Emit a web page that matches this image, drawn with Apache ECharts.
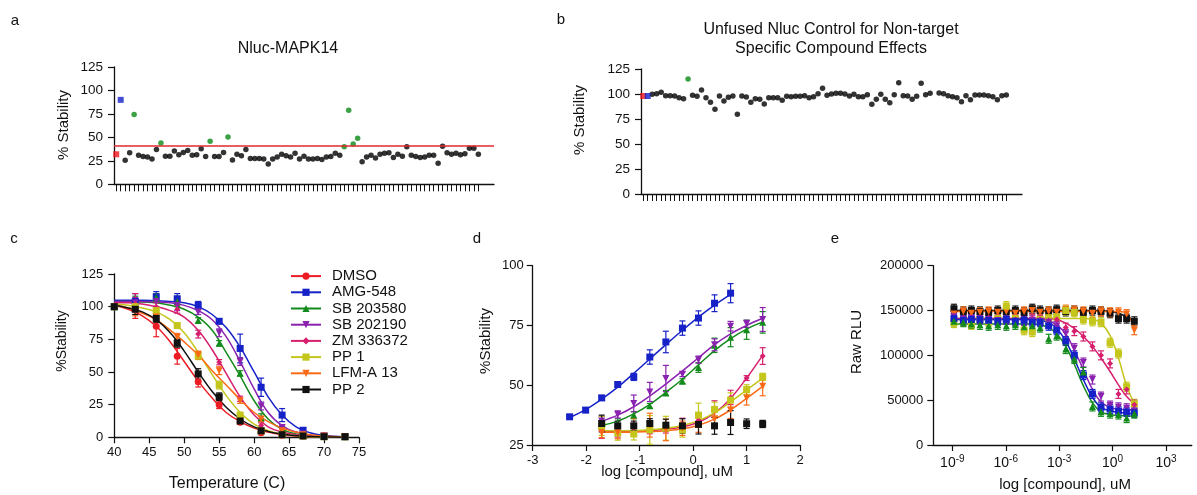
<!DOCTYPE html>
<html><head><meta charset="utf-8">
<script src="https://cdn.jsdelivr.net/npm/echarts@6/dist/echarts.min.js"></script>
<style>html,body{margin:0;padding:0;background:#fff}#c{width:1197px;height:495px}</style>
</head><body><div id="c"></div><script>
// ---------- DATA ----------
// Panel a: Nluc-MAPK14 screen (% stability), first = DMSO, second = AMG-548
const aValues = [32,90,25.5,33.5,74.5,31,29.5,29,27,37,44,30,30,35.5,31.5,34,36,31,31.5,38,29.5,46,29.5,29.5,34,50.5,26,32,30.5,37,27.5,27.5,27.5,27,21.5,27,29,32,30.5,29,33,27,30,27,27,27.5,26.5,29,29.5,33,31,40,79,43,49,24,29,31,28,32,33,33.5,28.5,32,30,40,31,29.5,28.5,29,31,31,22.5,40.5,33.5,32,33,31.5,32.5,38.5,38.5,32];
const aHits = [5,11,22,26,52,53,54,55];
const aCutoff = 41;
// Panel b: unfused Nluc control
const bValues = [98,98,99.7,100.3,101.7,98.3,98.3,98,96.3,95.3,115,98.7,97.7,104,96.3,91.7,84.7,98,93,96.7,98,79.7,98,97,91.7,95.3,94.7,90,96.3,96.3,96.3,93.7,97.7,97.3,97.7,97.7,98.3,96.3,97.3,100.3,105.7,98.7,100,100.7,100.7,100,98,99.7,97.3,97.3,99.3,89.7,94.7,99.7,94.7,91.3,99.3,111.3,98.3,98,94.7,97.7,110.7,99.3,100.7,null,101,100.3,98.3,97.3,96.3,92.3,98.3,94.3,99,99,99,98.3,97.3,94.3,98.3,99];
const bHits = [11];

// Panel c: thermal melt
const cNames = ['DMSO','AMG-548','SB 203580','SB 202190','ZM 336372','PP 1','LFM-A 13','PP 2'];
const cTemps = [40,43,46,49,52,55,58,61,64,67,70,73];
const cDMSO     = [100,98,85,62,42.5,25,11.5,3.5,1.5,1,1,0.5];
const cAMG548   = [100,104,107.5,106,101,88.8,68,38.3,17,5.4,1,0.5];
const cSB203580 = [100,103,107,104,89.5,72,49,15,6,2,1,0.5];
const cSB202190 = [100,103,104,101,96,80,58,24,7.5,2.5,1,0.5];
const cZM336372 = [100,102,100,98,79,57.5,29.5,9,3,1,0.5,0.5];
const cPP1      = [100,100,97,85.5,62.5,40,17,5,2,1,0.5,0.5];
const cLFMA13   = [100,97,92,76.5,63,51,28,14,5,2,1,0.5];
const cPP2      = [100,98,91,72,48.5,31,12.5,5,2,1,0.5,0.5];
const cDMSOErr     = [1,7,8,6,4,3,1.5,1,0.5,0.5,0.5,0.5];
const cAMG548Err   = [1,6,4,4,3,2,11,7,5,2,0.5,0.5];
const cSB203580Err = [1,5,3,4,2,2,2,3,2,1,0.5,0.5];
const cSB202190Err = [1,4,4,4,2,3,3,3,1,1,0.5,0.5];
const cZM336372Err = [1,8,3,3,3,2,2,2,1,1,0.5,0.5];
const cPP1Err      = [1,3,2,2,3,3,2,1,1,0.5,0.5,0.5];
const cLFMA13Err   = [1,4,3,3,3,3,2,2,1,0.5,0.5,0.5];
const cPP2Err      = [1,4,3,3,4,3,2,1,1,0.5,0.5,0.5];
const cFitTemps = [40,42,44,46,48,50,52,54,56,58,60,62,64,66,68,70,73];
const cDMSOFit     = [101,98,93,85,73,58,43,30,19,12,7,4,2,1,0.5,0.3,0.1];
const cAMG548Fit   = [105,105,105,104.5,104,103,100,94,84,69,50,31,17,8,3.5,1.5,0.3];
const cSB203580Fit = [104,104,103.5,103,101,98,92,82,65,47,28,14,6,2.5,1,0.4,0.1];
const cSB202190Fit = [104,104,104,103.5,103,101,97,90,77,58,37,19,9,4,1.5,0.6,0.1];
const cZM336372Fit = [103,103,102,100,97,92,82,67,49,31,17,8,4,2,1,0.4,0.1];
const cPP1Fit      = [102,101,99,96,90,80,65,48,32,19,10,5,2.5,1.2,0.5,0.2,0.1];
const cLFMA13Fit   = [101,99,95,90,82,73,63,51,40,29,19,12,7,4,2,1,0.4];
const cPP2Fit      = [101,99,96,90,80,66,50,35,23,14,8,4.5,2.5,1.2,0.6,0.3,0.1];

// Panel d: dose response (% stability)
const dLogAMG = [-2.31,-2.01,-1.71,-1.41,-1.11,-0.81,-0.51,-0.2,0.1,0.4,0.7];
const dLog    = [-1.71,-1.41,-1.11,-0.81,-0.51,-0.2,0.1,0.4,0.7,1.0,1.3];
const dAMG548   = [36.8,39.6,44.7,50.3,53.5,61.8,68.1,73.9,78.1,84.3,88.5];
const dSB203580 = [33.3,34,37.5,41.4,46.8,51.7,57.4,66.7,70.1,73.2,76.3];
const dSB202190 = [35,37.8,42.4,47.2,52.8,54.6,60.7,66.9,74.7,75.7,77.5];
const dZM336372 = [30.8,30.8,32,31.7,32,33.7,35.4,40,44.9,53,62.2];
const dPP1      = [33,30,29.6,31.3,32,31.3,37.5,39.9,43.8,48.2,53.5];
const dLFMA13   = [30.1,30.1,32.6,33.3,31.3,32,33.3,36,39.6,44.7,49.6];
const dPP2      = [34,33,33,34,33.3,33,33.6,33,34.4,33.9,33.8];
const dAMG548Err   = [0.5,1,1,1,1.5,3,4.5,3,3,3.5,4];
const dSB203580Err = [2,2,1.5,1,1,1,2,3,4,4,4.5];
const dSB202190Err = [2,1.5,3.5,4,5.5,1,1.5,2.5,2,1.5,5];
const dZM336372Err = [3,2.5,2,2,2,2.5,3,3.5,3,1,3.5];
const dPP1Err      = [4,3,2.5,6,5,3,5,3,3,2,1.5];
const dLFMA13Err   = [2,2.5,3.5,5,4.5,3,3,3,3.5,3,4];
const dPP2Err      = [3.5,2,2,2,2.5,3,4,3.5,5,2,1.5];
const dAMG548Fit   = [36.5,39.8,44.2,49.2,55,61,67,73,78.5,83.5,88];
const dSB203580Fit = [33.2,35,38,42,47,52.5,58.5,64.5,69.5,73.5,76.5];
const dSB202190Fit = [35,37.5,41,45.5,50.5,56,61.5,67,71.5,75,78];
const dZM336372Fit = [30.8,30.8,30.9,31.1,31.6,32.6,34.5,38.3,44.5,53,62.5];
const dPP1Fit      = [31,31,31.1,31.4,32,33.2,35.2,38.4,43,48,53];
const dLFMA13Fit   = [30.3,30.3,30.4,30.6,31,31.8,33.3,35.8,39.7,44.5,49.5];

// Panel e: raw RLU (x = log10 concentration, uM)
const eLog = [-8.91,-8.38,-7.93,-7.45,-6.96,-6.45,-5.97,-5.46,-4.97,-4.51,-4.07,-3.59,-3.14,-2.63,-2.15,-1.64,-1.13,-0.65,-0.14,0.33,0.79,1.22];
const eTickLogs = [-9,-6,-3,0,3];
const ePP2      = [152000,149000,150000,149000,148000,150000,149000,150000,148000,152000,150000,149000,151000,149000,150000,148000,150000,149000,147000,141000,141000,138000];
const eLFMA13   = [146000,149000,147000,148000,149000,148000,149000,147000,149000,150000,148000,149000,148000,151000,150000,149000,147000,149000,148000,148000,146000,128000];
const ePP1      = [136000,138000,134000,140000,137000,141000,155000,141000,128000,126000,140000,142000,143000,150000,148000,140000,138000,137000,114000,102000,65000,46000];
const eZM336372 = [140000,142000,140000,141000,142000,140000,141000,140000,139000,141000,140000,139000,140000,131000,127000,121000,110000,100000,91000,57000,62000,45000];
const eSB202190 = [143000,140000,141000,141000,140000,139000,140000,138000,139000,139000,138000,137000,133000,124000,108000,92000,73000,54000,44000,42000,41000,38000];
const eAMG548   = [141000,139000,140000,140000,139000,138000,140000,138000,139000,137000,137000,133000,128000,116000,100000,78000,57000,42000,40000,38000,37000,36000];
const eSB203580 = [138000,137000,135000,134000,133000,134000,133000,134000,132000,133000,131000,118500,122000,107000,96000,81500,43000,37000,35000,34000,30000,35000];
const ePP2Fit      = [150000,150000,150000,150000,150000,150000,150000,150000,150000,150000,150000,150000,150000,150000,150000,150000,150000,150000,149000,147000,143000,139000];
const eLFMA13Fit   = [149000,149000,149000,149000,149000,149000,149000,149000,149000,149000,149000,149000,149000,149000,149000,149000,149000,149000,149000,149000,147000,128000];
const ePP1Fit      = [141000,141000,141000,141000,141000,141000,141000,141000,141000,141000,141000,141000,141000,141000,141000,141000,140000,136000,122000,97000,66000,46000];
const eZM336372Fit = [141000,141000,141000,141000,141000,141000,141000,141000,141000,141000,141000,141000,140000,136000,130000,121000,110000,97000,82000,67000,54000,46000];
const eSB202190Fit = [140000,140000,140000,140000,140000,140000,140000,140000,140000,140000,140000,138500,134000,124000,106000,84000,62000,48000,42000,40000,39500,39000];
const eAMG548Fit   = [140000,140000,140000,140000,140000,140000,140000,140000,140000,140000,139000,136500,130000,116000,96000,73000,53000,42000,38000,36500,35500,35000];
const eSB203580Fit = [135000,135000,135000,135000,135000,135000,135000,135000,135000,135000,134000,131000,124000,110000,90000,66000,47000,37000,34000,33000,32500,32000];
const eErr = 5000;

// ---------- STYLES / LAYOUT ----------
const FONT = 'Liberation Sans, Arial, sans-serif';
const INV = 'path://M0,0L10,0L5,9Z';
const sty = {
  'DMSO':      {color:'#ec1c24', symbol:'circle', size:7},
  'AMG-548':   {color:'#1622c8', symbol:'rect', size:7},
  'SB 203580': {color:'#138a1c', symbol:'triangle', size:7},
  'SB 202190': {color:'#8a22b0', symbol:INV, size:7},
  'ZM 336372': {color:'#d6206e', symbol:'diamond', size:6},
  'PP 1':      {color:'#c4c61c', symbol:'rect', size:7},
  'LFM-A 13':  {color:'#fa6a16', symbol:INV, size:7},
  'PP 2':      {color:'#111111', symbol:'rect', size:7}
};
const AX = '#111';
const lab = (s)=>({color:'#111', fontFamily:FONT, fontSize:s});

const cSets = {
  'DMSO':[cDMSO,cDMSOErr,cDMSOFit], 'AMG-548':[cAMG548,cAMG548Err,cAMG548Fit],
  'SB 203580':[cSB203580,cSB203580Err,cSB203580Fit], 'SB 202190':[cSB202190,cSB202190Err,cSB202190Fit],
  'ZM 336372':[cZM336372,cZM336372Err,cZM336372Fit], 'PP 1':[cPP1,cPP1Err,cPP1Fit],
  'LFM-A 13':[cLFMA13,cLFMA13Err,cLFMA13Fit], 'PP 2':[cPP2,cPP2Err,cPP2Fit]
};
const dSets = {
  'AMG-548':[dLogAMG,dAMG548,dAMG548Err,dAMG548Fit],
  'SB 203580':[dLog,dSB203580,dSB203580Err,dSB203580Fit],
  'SB 202190':[dLog,dSB202190,dSB202190Err,dSB202190Fit],
  'ZM 336372':[dLog,dZM336372,dZM336372Err,dZM336372Fit],
  'PP 1':[dLog,dPP1,dPP1Err,dPP1Fit],
  'LFM-A 13':[dLog,dLFMA13,dLFMA13Err,dLFMA13Fit],
  'PP 2':[dLog,dPP2,dPP2Err,null]
};
const eSets = {
  'PP 2':[ePP2,ePP2Fit], 'LFM-A 13':[eLFMA13,eLFMA13Fit], 'PP 1':[ePP1,ePP1Fit],
  'ZM 336372':[eZM336372,eZM336372Fit], 'SB 202190':[eSB202190,eSB202190Fit],
  'AMG-548':[eAMG548,eAMG548Fit], 'SB 203580':[eSB203580,eSB203580Fit]
};

function errBars(xs, ys, es, color, idx, z){
  return {type:'custom', xAxisIndex:idx, yAxisIndex:idx, silent:true, z:z, clip:false,
    data: xs.map((x,i)=>[x, ys[i]-(Array.isArray(es)?es[i]:es), ys[i]+(Array.isArray(es)?es[i]:es)]),
    encode:{x:0, y:[1,2]},
    renderItem:(p, api)=>{
      const lo = api.coord([api.value(0), api.value(1)]);
      const hi = api.coord([api.value(0), api.value(2)]);
      const w = 3, st = {stroke:color, lineWidth:1.2};
      return {type:'group', children:[
        {type:'line', shape:{x1:lo[0],y1:lo[1],x2:hi[0],y2:hi[1]}, style:st},
        {type:'line', shape:{x1:lo[0]-w,y1:lo[1],x2:lo[0]+w,y2:lo[1]}, style:st},
        {type:'line', shape:{x1:hi[0]-w,y1:hi[1],x2:hi[0]+w,y2:hi[1]}, style:st}]};
    }};
}
function fitLine(name, xs, ys, idx, z){
  const s = sty[name];
  return {type:'line', name:name, xAxisIndex:idx, yAxisIndex:idx, smooth:0.4, showSymbol:false,
    symbol:s.symbol, symbolSize:s.size, z:z, silent:true,
    data: xs.map((x,i)=>[x, ys[i]]), lineStyle:{color:s.color, width:1.5}, itemStyle:{color:s.color}};
}
function marks(name, xs, ys, idx, z){
  const s = sty[name];
  return {type:'scatter', name:name, xAxisIndex:idx, yAxisIndex:idx, symbol:s.symbol, symbolSize:s.size, z:z,
    data: xs.map((x,i)=>[x, ys[i]]), itemStyle:{color:s.color, opacity:1}};
}

const series = [];
// ----- panels a, b -----
function strip(vals, hits, idx){
  const red=[], blue=[], green=[], black=[];
  vals.forEach((v,i)=>{
    if (v == null) return;
    const p=[i, v];
    if (i===0) red.push(p); else if (i===1) blue.push(p);
    else if (hits.includes(i+1)) green.push(p); else black.push(p);
  });
  const base = {type:'scatter', xAxisIndex:idx, yAxisIndex:idx, silent:true};
  series.push(Object.assign({}, base, {name:'screen'+idx, data:black, symbol:'circle', symbolSize:5.5, itemStyle:{color:'#000'}}));
  series.push(Object.assign({}, base, {name:'hit'+idx, data:green, symbol:'circle', symbolSize:5.5, itemStyle:{color:'#0b8a16'}}));
  series.push(Object.assign({}, base, {name:'dmso'+idx, data:red, symbol:'rect', symbolSize:6, itemStyle:{color:'#f0141e'}}));
  series.push(Object.assign({}, base, {name:'amg'+idx, data:blue, symbol:'rect', symbolSize:6, itemStyle:{color:'#1420c8'}}));
}
strip(aValues, aHits, 0);
strip(bValues, bHits, 1);
series.push({type:'line', xAxisIndex:0, yAxisIndex:0, data:[], silent:true,
  markLine:{symbol:'none', silent:true, label:{show:false}, lineStyle:{color:'#e0282e', width:1.5, type:'solid'}, data:[{yAxis:aCutoff}]}});

// ----- panel c -----
cNames.forEach((n,k)=>{ const f=cSets[n][2]; series.push(fitLine(n, cFitTemps, f, 2, 10+k)); });
cNames.forEach((n,k)=>{ const [y,e]=cSets[n];
  series.push(errBars(cTemps, y, e, sty[n].color, 2, 20+k));
  series.push(marks(n, cTemps, y, 2, 30+k)); });
// ----- panel d -----
Object.keys(dSets).forEach((n,k)=>{ const [x,y,e,f]=dSets[n];
  if (f) series.push(fitLine(n, x, f, 3, 10+k));
  series.push(errBars(x, y, e, sty[n].color, 3, 20+k));
  series.push(marks(n, x, y, 3, 30+k)); });
// ----- panel e -----
Object.keys(eSets).forEach((n,k)=>{ const [y,f]=eSets[n];
  series.push(fitLine(n, eLog, f, 4, 10+k));
  series.push(errBars(eLog, y, eErr, sty[n].color, 4, 20+k));
  series.push(marks(n, eLog, y, 4, 30+k)); });

// ----- axes -----
const baseAxis = {axisLine:{show:true, onZero:false, lineStyle:{color:AX, width:1.3}},
  axisTick:{show:true, inside:false, length:6, lineStyle:{color:AX, width:1.2}},
  splitLine:{show:false}};
function catX(idx, n, count){
  return Object.assign({}, baseAxis, {gridIndex:idx, type:'category', boundaryGap:true,
    data: Array.from({length:count}, (_,i)=>String(i+1)),
    axisLabel:{show:false},
    axisTick:{show:true, alignWithLabel:true, length:7, interval:(i)=>i<n, lineStyle:{color:AX, width:1}}});
}
function valY(idx, min, max, interval, size, margin){
  return Object.assign({}, baseAxis, {gridIndex:idx, type:'value', min:min, max:max, interval:interval,
    axisLabel:Object.assign(lab(size), {margin:margin, formatter:(v)=>String(v)})});
}
const option = {
  animation:false, backgroundColor:'#fff',
  grid:[
    {left:114, top:67, width:380, height:117.3, outerBoundsMode:'none'},
    {left:641, top:69, width:381, height:125, outerBoundsMode:'none'},
    {left:114.3, top:274, width:244.7, height:163.3, outerBoundsMode:'none'},
    {left:532.7, top:265.7, width:267.4, height:179.3, outerBoundsMode:'none'},
    {left:933.3, top:265.7, width:258.5, height:179.3, outerBoundsMode:'none'}
  ],
  xAxis:[
    catX(0, aValues.length, aValues.length+3),
    catX(1, bValues.length, bValues.length+3),
    Object.assign({}, baseAxis, {gridIndex:2, type:'value', min:40, max:75, interval:5, axisLabel:Object.assign(lab(13), {margin:9})}),
    Object.assign({}, baseAxis, {gridIndex:3, type:'value', min:-3, max:2, interval:1, axisLabel:Object.assign(lab(13), {margin:9})}),
    Object.assign({}, baseAxis, {gridIndex:4, type:'value', min:-10.07, max:4.45,
      axisTick:{show:true, length:6, customValues:eTickLogs, lineStyle:{color:AX, width:1.2}},
      axisLabel:Object.assign(lab(13), {margin:9, customValues:eTickLogs,
        formatter:(v)=>'{b|10}{s|' + v + '}',
        rich:{b:{fontSize:14, fontFamily:FONT, color:'#111'}, s:{fontSize:10, fontFamily:FONT, color:'#111', padding:[0,0,9,0]}}})})
  ],
  yAxis:[
    valY(0, 0, 125, 25, 13.5, 11),
    valY(1, 0, 125, 25, 13.5, 11),
    valY(2, 0, 125, 25, 13, 11),
    valY(3, 25, 100, 25, 13, 9),
    valY(4, 0, 200000, 50000, 13, 10)
  ],
  legend:{data:cNames, orient:'vertical', left:285, top:263, itemWidth:30, itemHeight:9, itemGap:0,
    selectedMode:false, textStyle:{fontFamily:FONT, fontSize:15, color:'#111', lineHeight:16.2, padding:[0,0,0,6]}},
  graphic:[
    {type:'text', x:15, y:21, style:{text:'a', font:'15px '+FONT, fill:'#111', align:'center', verticalAlign:'middle'}},
    {type:'text', x:561, y:20, style:{text:'b', font:'15px '+FONT, fill:'#111', align:'center', verticalAlign:'middle'}},
    {type:'text', x:14, y:239, style:{text:'c', font:'15px '+FONT, fill:'#111', align:'center', verticalAlign:'middle'}},
    {type:'text', x:477, y:239, style:{text:'d', font:'15px '+FONT, fill:'#111', align:'center', verticalAlign:'middle'}},
    {type:'text', x:835, y:239, style:{text:'e', font:'15px '+FONT, fill:'#111', align:'center', verticalAlign:'middle'}},
    {type:'text', x:288, y:49, style:{text:'Nluc-MAPK14', font:'16px '+FONT, fill:'#111', align:'center', verticalAlign:'middle'}},
    {type:'text', x:831, y:39.5, style:{text:'Unfused Nluc Control for Non-target\nSpecific Compound Effects', font:'16px '+FONT, lineHeight:19, fill:'#111', align:'center', verticalAlign:'middle'}},
    {type:'text', x:64, y:125, rotation:Math.PI/2, style:{text:'% Stability', font:'15px '+FONT, fill:'#111', align:'center', verticalAlign:'middle'}},
    {type:'text', x:580, y:120, rotation:Math.PI/2, style:{text:'% Stability', font:'15px '+FONT, fill:'#111', align:'center', verticalAlign:'middle'}},
    {type:'text', x:62, y:341, rotation:Math.PI/2, style:{text:'%Stability', font:'14px '+FONT, fill:'#111', align:'center', verticalAlign:'middle'}},
    {type:'text', x:486, y:341, rotation:Math.PI/2, style:{text:'%Stability', font:'15px '+FONT, fill:'#111', align:'center', verticalAlign:'middle'}},
    {type:'text', x:857, y:342, rotation:Math.PI/2, style:{text:'Raw RLU', font:'15px '+FONT, fill:'#111', align:'center', verticalAlign:'middle'}},
    {type:'text', x:227, y:484, style:{text:'Temperature (C)', font:'16px '+FONT, fill:'#111', align:'center', verticalAlign:'middle'}},
    {type:'text', x:667, y:472, style:{text:'log [compound], uM', font:'15px '+FONT, fill:'#111', align:'center', verticalAlign:'middle'}},
    {type:'text', x:1065, y:485, style:{text:'log [compound], uM', font:'15px '+FONT, fill:'#111', align:'center', verticalAlign:'middle'}}
  ],
  series: series
};
const chart = echarts.init(document.getElementById('c'), null, {renderer:'canvas'});
chart.setOption(option);
</script></body></html>
